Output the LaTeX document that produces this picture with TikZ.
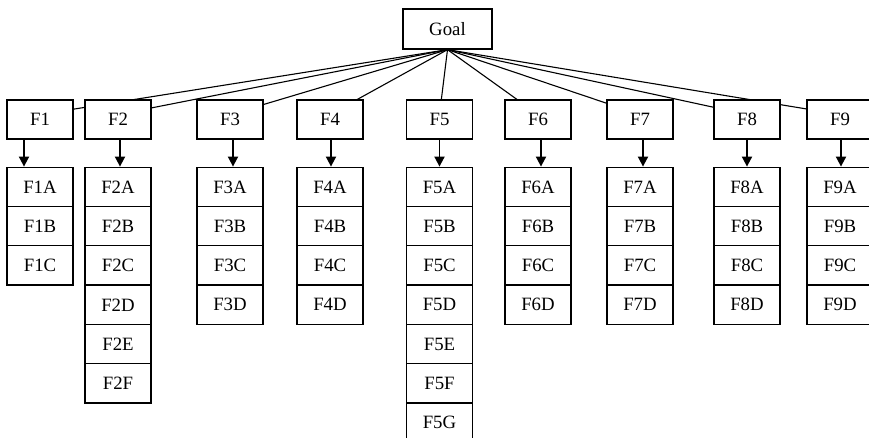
\documentclass[tikz,border=0pt]{standalone}
\usepackage{fontspec}
\setmainfont{Liberation Serif}
\usetikzlibrary{arrows.meta,backgrounds}
\tikzset{
  lbl/.style={font=\fontsize{9.4}{11}\selectfont},
  goalbox/.style={draw,line width=0.65pt,fill=white,lbl,inner sep=0pt,minimum width=44.5pt,minimum height=20pt},
  fbox/.style={draw,line width=0.65pt,fill=white,lbl,inner sep=0pt,minimum width=33pt,minimum height=19.5pt},
  sbox/.style={fbox,minimum height=19.65pt},
  ln/.style={line width=0.55pt},
  ar/.style={-{Triangle[length=5pt,width=5pt]},line width=0.9pt}
}

\begin{document}
\begin{tikzpicture}[x=0.5pt,y=-0.5pt]
\useasboundingbox (0,0) rectangle (869,438);
\node[goalbox] (goal) at (447.5,29) {Goal};
% columns: number / centre x / arrow offset / sub items
\foreach \c/\x/\dx/\subs in {1/40/-8/{A,B,C},2/118/1/{A,B,C,D,E,F},3/230/1.5/{A,B,C,D},
    4/330/0.5/{A,B,C,D},5/439.5/0/{A,B,C,D,E,F,G},6/538/1.5/{A,B,C,D},
    7/640/1.5/{A,B,C,D},8/747/0/{A,B,C,D},9/840/0.5/{A,B,C,D}}{
  \node[fbox] (F\c) at (\x,119.5) {F\c};
  \foreach \s [count=\k] in \subs
    \node[sbox] (F\c\s) at (\x,{186.9+39.3*(\k-1)}) {F\c\s};
  \draw[ar] ([xshift=\dx pt]F\c.south) -- ([xshift=\dx pt]F\c A.north);
  \begin{pgfonlayer}{background}
    \draw[ln] (goal.south) -- ([yshift=2.5pt]F\c.center);
  \end{pgfonlayer}
}
\end{tikzpicture}
\end{document}
